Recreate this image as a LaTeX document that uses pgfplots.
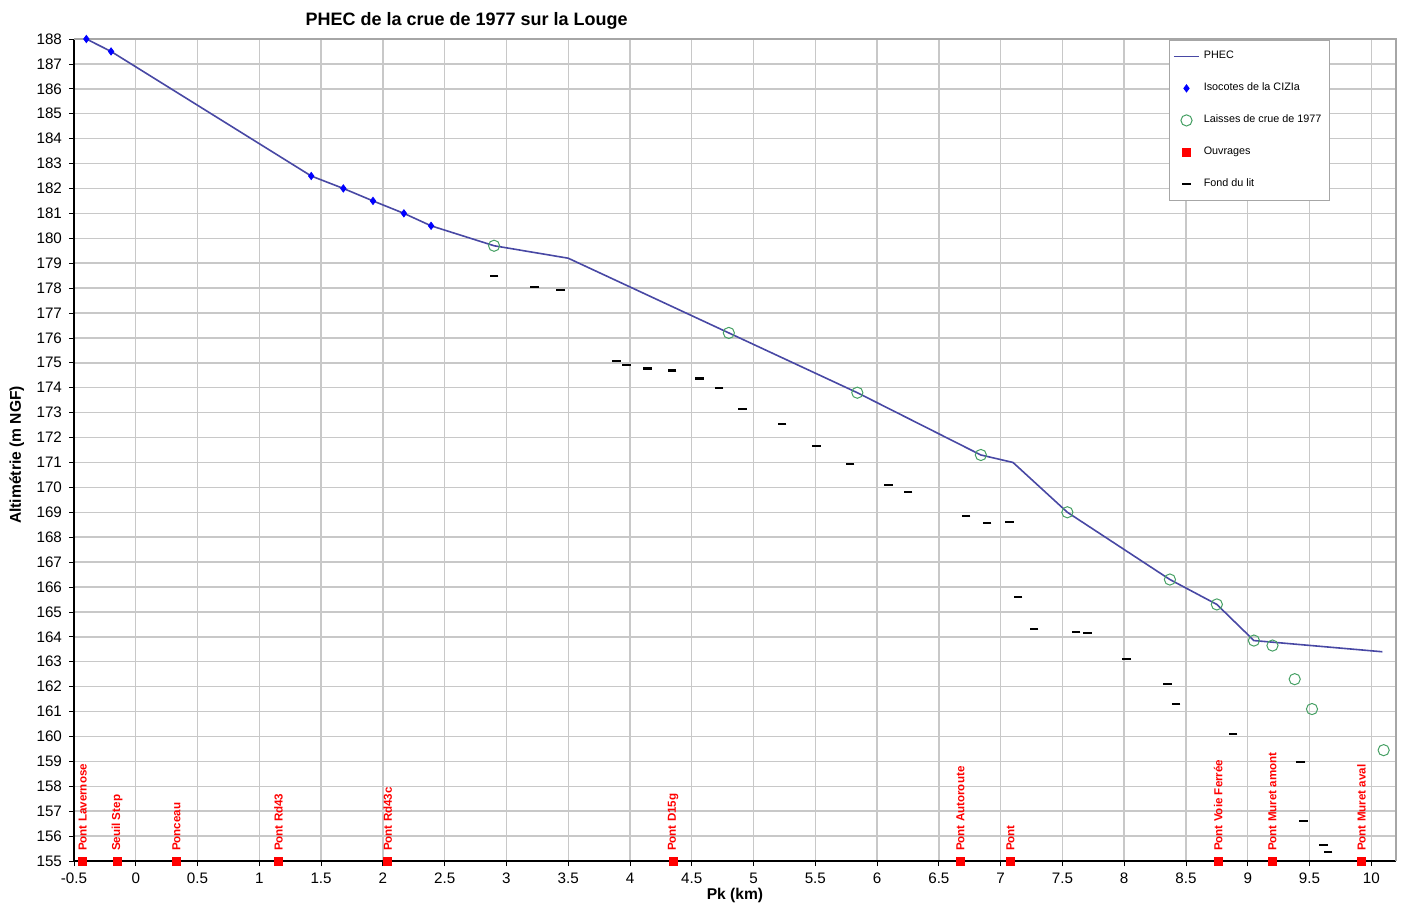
\documentclass[border=0pt]{standalone}
\usepackage{pgfplots}
\pgfplotsset{compat=1.18}
\usepackage{fontspec}
\setmainfont{Liberation Sans}

\definecolor{phec}{RGB}{72,72,164}
\definecolor{laisse}{RGB}{70,160,100}
\definecolor{gridc}{RGB}{200,200,200}

\begin{document}
\begin{tikzpicture}
\begin{axis}[
  scale only axis, width=661pt, height=411pt,
  xmin=-0.5, xmax=10.2, ymin=155, ymax=188,
  xtick distance=0.5, ytick distance=1,
  axis x line*=bottom, axis y line*=left,
  axis line style={-, black, line width=0.7pt},
  grid=major, major grid style={gridc, line width=0.7pt},
  tick align=outside, major tick length=2.5pt, tick style={black, line width=0.4pt},
  /pgf/number format/assume math mode=true,
  tick label style={font=\fontsize{7.6}{8}\selectfont},
  title={PHEC de la crue de 1977 sur la Louge},
  title style={at={(axis description cs:0.297,1)}, anchor=base, yshift=0.5pt, font=\bfseries\fontsize{9}{10}\selectfont},
  xlabel={Pk (km)},
  xlabel style={at={(axis description cs:0.5,0)}, anchor=base, yshift=-19pt, font=\bfseries\fontsize{7.8}{9}\selectfont},
  ylabel={Altimétrie (m NGF)},
  ylabel style={at={(axis description cs:-0.0401,0.494)}, anchor=base, font=\bfseries\fontsize{7.8}{9}\selectfont},
  legend style={at={(axis description cs:0.95,0.999)}, anchor=north east, draw=gray!70,
    font=\fontsize{5.4}{6}\selectfont, row sep=6.6pt, inner xsep=2pt, inner ysep=3.5pt, cells={anchor=west}},
  legend cell align=left,
  legend image code/.code={\draw[mark repeat=2,mark phase=2,#1] plot coordinates {(0cm,0cm) (0.22cm,0cm) (0.44cm,0cm)};},
  clip=false,
]
\coordinate (sw) at (rel axis cs:0,0);
\coordinate (ne) at (rel axis cs:1,1);
\draw[gray!70, line width=0.6pt] (rel axis cs:0,1) -- (rel axis cs:1,1) -- (rel axis cs:1,0);

% PHEC
\addplot[phec, line width=0.8pt, no marks] coordinates {
(-0.4,188) (-0.2,187.5) (1.42,182.5) (1.68,182) (1.92,181.5) (2.17,181) (2.39,180.5)
(2.90,179.7) (3.5,179.2) (4.80,176.2) (5.84,173.8) (6.84,171.3) (7.10,171.0)
(7.54,169.0) (8.37,166.3) (8.75,165.3) (9.05,163.85) (10.09,163.4)
};
\addlegendentry{PHEC}

% Isocotes
\addplot[only marks, mark=diamond*, mark size=1.8pt, color=blue] coordinates {
(-0.4,188) (-0.2,187.5) (1.42,182.5) (1.68,182) (1.92,181.5) (2.17,181) (2.39,180.5)
};
\addlegendentry{Isocotes de la CIZIa}

% Laisses de crue
\addplot[only marks, mark=o, mark size=2.8pt, color=laisse, line width=0.5pt] coordinates {
(2.90,179.7) (4.80,176.2) (5.84,173.8) (6.84,171.3) (7.54,169.0) (8.37,166.3)
(8.75,165.3) (9.05,163.85) (9.20,163.65) (9.38,162.3) (9.52,161.1) (10.10,159.45)
};
\addlegendentry{Laisses de crue de 1977}

% Ouvrages
\addplot[only marks, mark=square*, mark size=2pt, color=red,
  point meta=explicit symbolic, nodes near coords,
  every node near coord/.append style={rotate=90, anchor=west, xshift=1.5pt, text=red,
    font=\bfseries\fontsize{5.8}{6}\selectfont}] coordinates {
(-0.43,155) [Pont Lavernose]
(-0.15,155) [Seuil Step]
(0.33,155) [Ponceau]
(1.155,155) [Pont Rd43]
(2.04,155) [Pont Rd43c]
(4.35,155) [Pont D15g]
(6.675,155) [Pont Autoroute]
(7.08,155) [Pont]
(8.76,155) [Pont Voie Ferrée]
(9.20,155) [Pont Muret amont]
(9.92,155) [Pont Muret aval]
};
\addlegendentry{Ouvrages}

% Fond du lit
\addplot[only marks, mark=-, mark size=2.2pt, color=black, mark options={line width=1.1pt}] coordinates {
(2.90,178.48) (3.23,178.04) (3.44,177.92) (3.89,175.07) (3.97,174.91) (4.14,174.77)
(4.34,174.69) (4.56,174.37) (4.72,173.98) (4.91,173.14) (5.23,172.54) (5.51,171.65)
(5.78,170.93) (6.09,170.1) (6.25,169.8) (6.72,168.84) (6.89,168.57) (7.07,168.6)
(7.14,165.59) (7.27,164.3) (7.61,164.2) (7.70,164.15) (8.02,163.1) (8.35,162.1)
(8.42,161.3) (8.88,160.1) (9.43,158.98) (9.45,156.6) (9.61,155.64) (9.65,155.36)
};
\addlegendentry{Fond du lit}
\end{axis}
\pgfresetboundingbox
\path ([xshift=-37pt,yshift=-23pt]sw) rectangle ([xshift=3.5pt,yshift=19.5pt]ne);
\end{tikzpicture}
\end{document}
